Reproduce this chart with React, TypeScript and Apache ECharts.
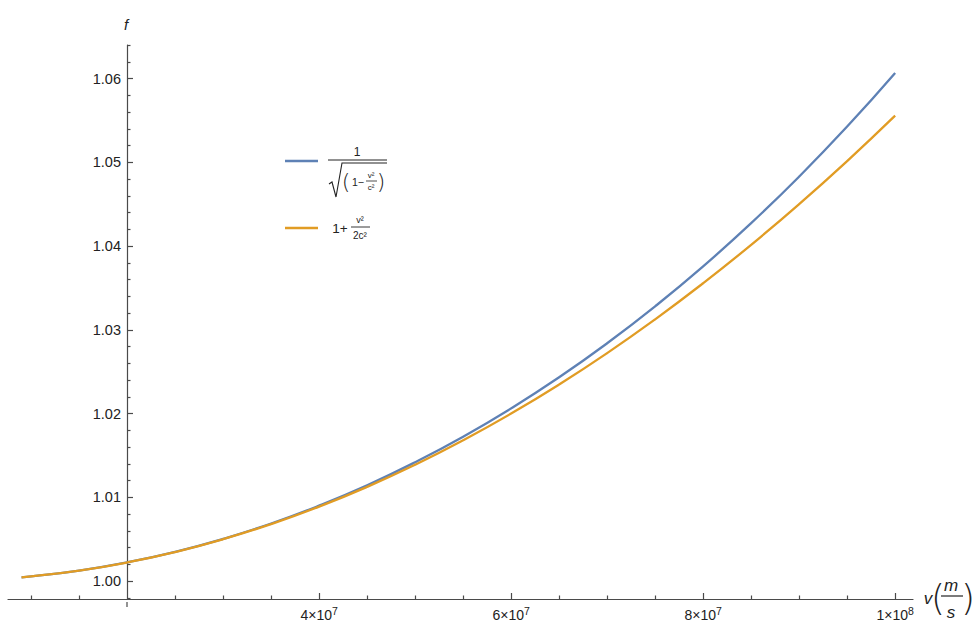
import React, { useEffect, useRef } from "react";
import * as echarts from "echarts";

// speeds v in m/s
const velocities = [
  9e6, 1e7, 1.5e7, 2e7, 2.5e7, 3e7, 3.5e7, 4e7, 4.5e7, 5e7, 5.5e7, 6e7, 6.5e7,
  7e7, 7.5e7, 8e7, 8.5e7, 9e7, 9.5e7, 1e8,
];
// exact Lorentz factor
const exactFactor = [
  1.00045, 1.00056, 1.00125, 1.00223, 1.00349, 1.00504, 1.00687, 1.00901,
  1.01144, 1.01419, 1.01724, 1.02062, 1.02433, 1.02839, 1.0328, 1.03757,
  1.04273, 1.04829, 1.05426, 1.06066,
];
// approximation
const approxFactor = [
  1.00045, 1.00056, 1.00125, 1.00222, 1.00347, 1.005, 1.00681, 1.00889,
  1.01125, 1.01389, 1.01681, 1.02, 1.02347, 1.02722, 1.03125, 1.03556,
  1.04014, 1.045, 1.05014, 1.05556,
];

const xMajorTicks = [4e7, 6e7, 8e7, 1e8];
const xTickMantissa = ["4", "6", "8", "1"];
const xTickExponent = ["7", "7", "7", "8"];
const xMinorTicks = [
  1e7, 1.5e7, 2.5e7, 3e7, 3.5e7, 4.5e7, 5e7, 5.5e7, 6.5e7, 7e7, 7.5e7, 8.5e7,
  9e7, 9.5e7,
];
const yMajorTicks = [1.0, 1.01, 1.02, 1.03, 1.04, 1.05, 1.06];
const yMinorTicks = [
  0.998, 1.002, 1.004, 1.006, 1.008, 1.012, 1.014, 1.016, 1.018, 1.022, 1.024,
  1.026, 1.028, 1.032, 1.034, 1.036, 1.038, 1.042, 1.044, 1.046, 1.048, 1.052,
  1.054, 1.056, 1.058, 1.062, 1.064,
];

const X_MIN = 7.59e6;
const X_MAX = 1.0186e8;
const Y_MIN = 0.997861;
const Y_MAX = 1.064;

const BLUE = "#5E81B5";
const ORANGE = "#E19C24";
const AXIS = "#4a4a4a";
const FONT = "'Liberation Sans', Arial, sans-serif";

export default function App() {
  const ref = useRef<HTMLDivElement>(null);

  useEffect(() => {
    if (!ref.current) return;
    const chart = echarts.init(ref.current, null, { renderer: "svg" });
    const textBase = { fontFamily: FONT, fill: "#222" };
    const parenStyle = { fontFamily: "'DejaVu Sans', sans-serif", fill: "#222", fontWeight: 200 };
    const option: any = {
      animation: false,
      backgroundColor: "#ffffff",
      grid: { left: 8, right: 63, top: 45, bottom: 20, containLabel: false },
      xAxis: [
        {
          type: "value",
          min: X_MIN,
          max: X_MAX,
          position: "bottom",
          axisLine: { show: true, onZero: false, lineStyle: { color: AXIS, width: 1.2 } },
          axisTick: {
            show: true,
            inside: true,
            length: 6,
            customValues: xMajorTicks,
            lineStyle: { color: AXIS, width: 1.2 },
          },
          axisLabel: {
            show: true,
            customValues: xMajorTicks,
            margin: 6,
            formatter: (v: number) => {
              const i = xMajorTicks.findIndex((t) => Math.abs(t - v) < 1);
              if (i < 0) return "";
              return `{m|${xTickMantissa[i]}×10}{e|${xTickExponent[i]}}`;
            },
            rich: {
              m: { fontFamily: FONT, fontSize: 14, color: "#222", verticalAlign: "bottom" },
              e: { fontFamily: FONT, fontSize: 10.5, color: "#222", verticalAlign: "top", padding: [0, 0, 6, 0] },
            },
          },
          splitLine: { show: false },
        },
        {
          type: "value",
          min: X_MIN,
          max: X_MAX,
          position: "bottom",
          axisLine: { show: false, onZero: false },
          axisTick: {
            show: true,
            inside: true,
            length: 3.5,
            customValues: xMinorTicks,
            lineStyle: { color: AXIS, width: 1.2 },
          },
          axisLabel: { show: false },
          splitLine: { show: false },
        },
      ],
      yAxis: [
        {
          type: "value",
          min: Y_MIN,
          max: Y_MAX,
          position: "left",
          offset: -119,
          axisLine: { show: true, onZero: false, lineStyle: { color: AXIS, width: 1.2 } },
          axisTick: {
            show: true,
            inside: true,
            length: 6,
            customValues: yMajorTicks,
            lineStyle: { color: AXIS, width: 1.2 },
          },
          axisLabel: {
            show: true,
            customValues: yMajorTicks,
            margin: 6,
            fontFamily: FONT,
            fontSize: 14.5,
            color: "#222",
            formatter: (v: number) => v.toFixed(2),
          },
          splitLine: { show: false },
        },
        {
          type: "value",
          min: Y_MIN,
          max: Y_MAX,
          position: "left",
          offset: -119,
          axisLine: { show: false, onZero: false },
          axisTick: {
            show: true,
            inside: true,
            length: 3.5,
            customValues: yMinorTicks,
            lineStyle: { color: AXIS, width: 1.2 },
          },
          axisLabel: { show: false },
          splitLine: { show: false },
        },
      ],
      series: [
        {
          name: "1/sqrt(1-v²/c²)",
          type: "line",
          xAxisIndex: 0,
          yAxisIndex: 0,
          data: velocities.map((v, i) => [v, exactFactor[i]]),
          smooth: true,
          showSymbol: false,
          lineStyle: { color: BLUE, width: 2.3 },
          itemStyle: { color: BLUE },
          z: 3,
        },
        {
          name: "1+v²/2c²",
          type: "line",
          xAxisIndex: 0,
          yAxisIndex: 0,
          data: velocities.map((v, i) => [v, approxFactor[i]]),
          smooth: true,
          showSymbol: false,
          lineStyle: { color: ORANGE, width: 2.3 },
          itemStyle: { color: ORANGE },
          z: 4,
        },
      ],
      graphic: [
        // y axis stub below the x axis
        { type: "line", shape: { x1: 127, y1: 602, x2: 127, y2: 607 }, style: { stroke: AXIS, lineWidth: 1.2 } },
        // y axis name
        {
          type: "text",
          x: 126,
          y: 24,
          style: { ...textBase, text: "f", fontSize: 15, fontStyle: "italic", align: "center", verticalAlign: "middle" },
        },
        // x axis name v(m/s)
        {
          type: "text",
          x: 928,
          y: 598,
          style: { ...textBase, text: "v", fontSize: 17, fontStyle: "italic", align: "center", verticalAlign: "middle" },
        },
        {
          type: "text",
          x: 938,
          y: 597,
          style: { ...parenStyle, text: "(", fontSize: 36, align: "center", verticalAlign: "middle" },
        },
        {
          type: "text",
          x: 951,
          y: 585,
          style: { ...textBase, text: "m", fontSize: 17, fontStyle: "italic", align: "center", verticalAlign: "middle" },
        },
        { type: "line", shape: { x1: 941, y1: 596, x2: 963, y2: 596 }, style: { stroke: "#222", lineWidth: 1.2 } },
        {
          type: "text",
          x: 951,
          y: 612,
          style: { ...textBase, text: "s", fontSize: 17, fontStyle: "italic", align: "center", verticalAlign: "middle" },
        },
        {
          type: "text",
          x: 968,
          y: 597,
          style: { ...parenStyle, text: ")", fontSize: 36, align: "center", verticalAlign: "middle" },
        },
        // legend: blue entry
        { type: "line", shape: { x1: 285, y1: 161, x2: 318, y2: 161 }, style: { stroke: BLUE, lineWidth: 2.5 } },
        {
          type: "text",
          x: 357,
          y: 152,
          style: { ...textBase, text: "1", fontSize: 12, align: "center", verticalAlign: "middle" },
        },
        { type: "line", shape: { x1: 328, y1: 160, x2: 387, y2: 160 }, style: { stroke: "#222", lineWidth: 1 } },
        {
          type: "polyline",
          shape: { points: [[329, 184], [332, 182], [336, 197], [342, 163], [387, 163]] },
          style: { stroke: "#222", lineWidth: 1.1, fill: "none" },
        },
        {
          type: "text",
          x: 346,
          y: 181,
          style: { ...parenStyle, text: "(", fontSize: 22, align: "center", verticalAlign: "middle" },
        },
        {
          type: "text",
          x: 358,
          y: 182,
          style: { ...textBase, text: "1−", fontSize: 10.5, align: "center", verticalAlign: "middle" },
        },
        {
          type: "text",
          x: 371,
          y: 175,
          style: { ...textBase, text: "v²", fontSize: 8, align: "center", verticalAlign: "middle" },
        },
        { type: "line", shape: { x1: 366, y1: 181, x2: 377, y2: 181 }, style: { stroke: "#222", lineWidth: 0.8 } },
        {
          type: "text",
          x: 371,
          y: 187,
          style: { ...textBase, text: "c²", fontSize: 8, align: "center", verticalAlign: "middle" },
        },
        {
          type: "text",
          x: 381,
          y: 181,
          style: { ...parenStyle, text: ")", fontSize: 22, align: "center", verticalAlign: "middle" },
        },
        // legend: orange entry
        { type: "line", shape: { x1: 285, y1: 228, x2: 318, y2: 228 }, style: { stroke: ORANGE, lineWidth: 2.5 } },
        {
          type: "text",
          x: 340,
          y: 228,
          style: { ...textBase, text: "1+", fontSize: 13.5, align: "center", verticalAlign: "middle" },
        },
        {
          type: "text",
          x: 360,
          y: 220,
          style: { ...textBase, text: "v²", fontSize: 9, align: "center", verticalAlign: "middle" },
        },
        { type: "line", shape: { x1: 351, y1: 227, x2: 370, y2: 227 }, style: { stroke: "#222", lineWidth: 0.9 } },
        {
          type: "text",
          x: 360,
          y: 235,
          style: { ...textBase, text: "2c²", fontSize: 10, align: "center", verticalAlign: "middle" },
        },
      ],
    };
    chart.setOption(option);
    return () => chart.dispose();
  }, []);

  return (
    <div
      ref={ref}
      style={{ position: "fixed", left: 0, top: 0, width: 976, height: 622, background: "#fff" }}
    />
  );
}
